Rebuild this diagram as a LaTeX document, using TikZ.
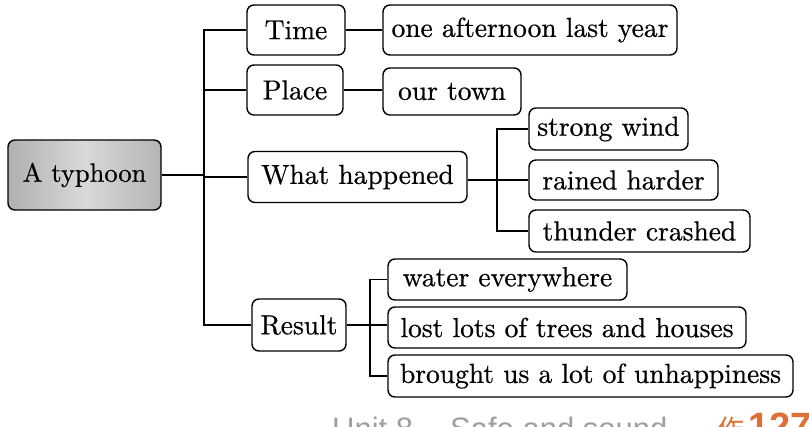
\documentclass[tikz,border=0pt]{standalone}
\usepackage{fontspec}
\setmainfont{lmroman10-regular.otf}[FakeBold=0.6]
\newfontfamily\footfont{Liberation Sans}
\newfontfamily\cjk{Noto Sans CJK SC}
\definecolor{pageorange}{RGB}{222,112,52}
\begin{document}
\begin{tikzpicture}[x=1pt,y=-1pt,
  box/.style={draw, rounded corners=7pt, line width=1.4pt, inner sep=0pt,
    font=\fontsize{27.5}{32}\selectfont},
  conn/.style={line width=1.3pt},
  foot/.style={inner sep=0pt, anchor=base west}]
\clip (0,0) rectangle (809,426);
\fill[white] (0,0) rectangle (809,426);

% root
\node[box, minimum width=153pt, minimum height=70pt, font=\fontsize{26.5}{32}\selectfont,
  left color=gray!62, right color=gray!58, middle color=gray!30] (root) at (84.5,175) {A typhoon};

% level 1
\node[box, minimum width=98pt, minimum height=50pt] (time) at (296,30) {Time};
\node[box, minimum width=96pt, minimum height=50pt] (place) at (295,90) {Place};
\node[box, minimum width=219pt, minimum height=51pt] (what) at (357.5,177) {What happened};
\node[box, minimum width=94pt, minimum height=52pt] (result) at (299,325) {Result};

% level 2
\node[box, minimum width=294pt, minimum height=50pt] (after) at (530,30) {one afternoon last year};
\node[box, minimum width=138pt, minimum height=47pt] (town) at (452,91.5) {our town};

\node[box, minimum width=159pt, minimum height=42pt] (wind) at (608.5,129) {strong wind};
\node[box, minimum width=189pt, minimum height=40pt] (rain) at (623.5,180) {rained harder};
\node[box, minimum width=221pt, minimum height=42pt] (thunder) at (639.5,231) {thunder crashed};

\node[box, minimum width=239pt, minimum height=41pt] (water) at (507.5,279.5) {water everywhere};
\node[box, minimum width=358pt, minimum height=41pt] (lost) at (567,327.5) {lost lots of trees and houses};
\node[box, minimum width=405pt, minimum height=42pt] (brought) at (590.5,376) {brought us a lot of unhappiness};

% trunk coordinates
\coordinate (t1) at (204,175);
\coordinate (t2) at (497,180);
\coordinate (t3) at (370,325);

% root connectors
\draw[conn] (root.east) -- (t1);
\draw[conn] (time.west) -- (time.west -| t1) -- (result.west -| t1) -- (result.west);
\draw[conn] (place.west) -- (place.west -| t1);
\draw[conn] (what.west) -- (what.west -| t1);

% level-1 to level-2
\draw[conn] (time.east) -- (after.west);
\draw[conn] (place.east) -- (place.east -| town.west);

\draw[conn] (what.east |- rain.west) -- (rain.west);
\draw[conn] (wind.west) -- (wind.west -| t2) -- (thunder.west -| t2) -- (thunder.west);

\draw[conn] (result.east) -- (result.east -| lost.west);
\draw[conn] (water.west) -- (water.west -| t3) -- (brought.west -| t3) -- (brought.west);

% footer
\node[foot, text=gray!75, font=\footfont\fontsize{31}{36}\selectfont] (unit) at (332,439) {Unit 8};
\node[foot, text=gray!75, font=\footfont\fontsize{31}{36}\selectfont] (safe) at (450,439) {Safe and sound};
\node[foot, text=pageorange, font=\cjk\fontsize{27}{32}\selectfont] (zuo) at (717,439) {作};
\node[foot, text=pageorange, font=\footfont\bfseries\fontsize{38}{44}\selectfont] (page) at (748,439) {127};
\end{tikzpicture}
\end{document}
